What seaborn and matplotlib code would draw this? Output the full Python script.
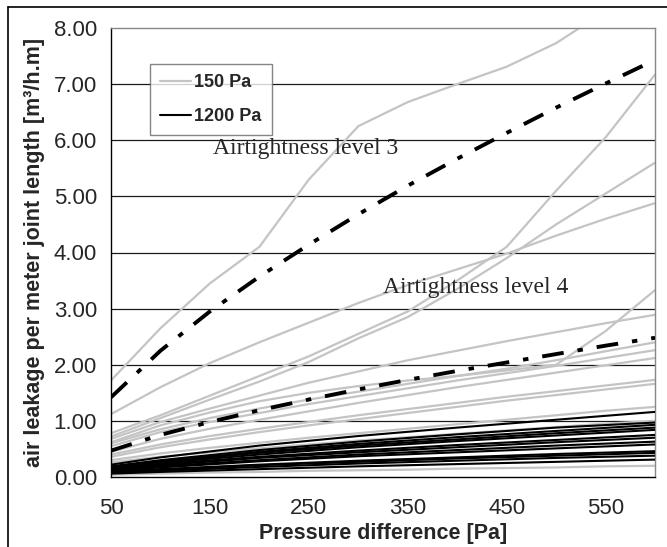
import numpy as np
import pandas as pd
import seaborn as sns
import matplotlib
matplotlib.use("Agg")
import matplotlib.pyplot as plt
from matplotlib.lines import Line2D

# ---------------- data ----------------
pressure = [50, 100, 150, 200, 250, 300, 350, 400, 450, 500, 550, 600]
pressure_black = [50, 100, 200, 300, 400, 500, 600]

gray_series = {
    "G1": [1.72, 2.65, 3.45, 4.10, 5.30, 6.25, 6.68, 7.00, 7.31, 7.73, 8.30, 8.80],
    "G2": [0.78, 1.10, 1.45, 1.80, 2.15, 2.55, 2.95, 3.50, 4.10, 5.10, 6.05, 7.17],
    "G3": [0.72, 1.05, 1.38, 1.70, 2.05, 2.47, 2.85, 3.35, 3.90, 4.50, 5.05, 5.60],
    "G4": [1.12, 1.60, 2.03, 2.40, 2.75, 3.10, 3.42, 3.70, 3.98, 4.30, 4.60, 4.88],
    "G5": [0.62, 0.92, 1.15, 1.35, 1.50, 1.62, 1.72, 1.80, 1.90, 2.00, 2.60, 3.33],
    "G6": [0.68, 0.98, 1.22, 1.45, 1.68, 1.88, 2.08, 2.25, 2.42, 2.58, 2.74, 2.89],
    "G7": [0.60, 0.85, 1.05, 1.22, 1.38, 1.52, 1.66, 1.80, 1.93, 2.08, 2.24, 2.40],
    "G8": [0.55, 0.80, 0.98, 1.14, 1.30, 1.44, 1.58, 1.72, 1.85, 1.98, 2.12, 2.26],
    "G9": [0.45, 0.68, 0.86, 1.02, 1.17, 1.32, 1.46, 1.60, 1.73, 1.86, 1.99, 2.12],
    "G10": [0.40, 0.58, 0.73, 0.86, 0.98, 1.10, 1.21, 1.32, 1.43, 1.53, 1.63, 1.73],
    "G11": [0.36, 0.53, 0.67, 0.80, 0.92, 1.03, 1.14, 1.25, 1.36, 1.46, 1.56, 1.66],
    "G12": [0.30, 0.42, 0.52, 0.61, 0.70, 0.78, 0.86, 0.94, 1.02, 1.10, 1.18, 1.25],
    "G13": [0.26, 0.36, 0.44, 0.51, 0.58, 0.65, 0.71, 0.77, 0.83, 0.89, 0.95, 1.00],
    "G14": [0.04, 0.06, 0.08, 0.09, 0.11, 0.12, 0.13, 0.15, 0.16, 0.17, 0.19, 0.20],
}

black_series = {
    "B1": [0.22, 0.35, 0.56, 0.73, 0.88, 1.02, 1.16],
    "B2": [0.19, 0.30, 0.48, 0.63, 0.76, 0.88, 0.97],
    "B3": [0.18, 0.28, 0.45, 0.59, 0.71, 0.82, 0.93],
    "B4": [0.17, 0.27, 0.43, 0.56, 0.67, 0.78, 0.88],
    "B5": [0.16, 0.25, 0.40, 0.53, 0.64, 0.74, 0.84],
    "B6": [0.14, 0.23, 0.36, 0.47, 0.57, 0.66, 0.75],
    "B7": [0.13, 0.21, 0.34, 0.44, 0.53, 0.62, 0.70],
    "B8": [0.12, 0.19, 0.30, 0.40, 0.48, 0.56, 0.63],
    "B9": [0.11, 0.17, 0.28, 0.37, 0.44, 0.51, 0.58],
    "B10": [0.09, 0.14, 0.22, 0.29, 0.35, 0.41, 0.46],
    "B11": [0.08, 0.13, 0.21, 0.27, 0.33, 0.38, 0.43],
    "B12": [0.07, 0.11, 0.18, 0.24, 0.29, 0.34, 0.38],
    "B13": [0.06, 0.09, 0.14, 0.19, 0.23, 0.27, 0.31],
}

level3 = [1.42, 2.25, 2.95, 3.57, 4.14, 4.68, 5.19, 5.67, 6.13, 6.58, 7.01, 7.43]
level4 = [0.47, 0.75, 0.98, 1.19, 1.38, 1.56, 1.73, 1.89, 2.04, 2.19, 2.34, 2.48]

legend_labels = ["150 Pa", "1200 Pa"]
annotations = ["Airtightness level 3", "Airtightness level 4"]
x_ticks = [50, 150, 250, 350, 450, 550]
y_ticks = [0, 1, 2, 3, 4, 5, 6, 7, 8]

# ---------------- build frames ----------------
rows = []
for name, vals in gray_series.items():
    for p, q in zip(pressure, vals):
        rows.append({"P": p, "Q": q, "series": name, "group": "150 Pa"})
for name, vals in black_series.items():
    for p, q in zip(pressure_black, vals):
        rows.append({"P": p, "Q": q, "series": name, "group": "1200 Pa"})
df = pd.DataFrame(rows)

lev_rows = []
for name, vals in (("L3", level3), ("L4", level4)):
    for p, q in zip(pressure, vals):
        lev_rows.append({"P": p, "Q": q, "series": name})
lev = pd.DataFrame(lev_rows)

# ---------------- plot ----------------
sns.set_theme(style="white")
plt.rcParams["font.family"] = ["Liberation Sans", "DejaVu Sans"]

fig = plt.figure(figsize=(6.67, 5.47), dpi=100)
ax = fig.add_axes([111 / 667, 1 - 477 / 547, (655 - 111) / 667, (477 - 28) / 547])

GRAY = "#c4c4c4"
for yv in range(1, 8):
    ax.axhline(yv, color="#1a1a1a", lw=0.9, zorder=0)

sns.lineplot(data=df[df.group == "150 Pa"], x="P", y="Q", units="series",
             estimator=None, color=GRAY, lw=1.6, ax=ax, legend=False, zorder=2)
sns.lineplot(data=df[df.group == "1200 Pa"], x="P", y="Q", units="series",
             estimator=None, color="black", lw=1.5, ax=ax, legend=False, zorder=3)
n_before = len(ax.lines)
sns.lineplot(data=lev, x="P", y="Q", units="series", estimator=None,
             color="black", lw=2.8, ax=ax, legend=False, zorder=4)
for ln in ax.lines[n_before:]:
    ln.set_dashes([5.6, 3.6, 1.4, 3.6])
    ln.set_dash_capstyle("butt")

ax.set_xlim(50, 600)
ax.set_ylim(0, 8)
ax.set_xticks(x_ticks)
ax.set_yticks(y_ticks)
ax.set_yticklabels([f"{v:.2f}" for v in y_ticks])
ax.tick_params(axis="both", labelsize=16, direction="out", length=6,
               width=1, color="black")
ax.tick_params(axis="x", pad=9)
ax.tick_params(axis="y", pad=4)

for side in ("top", "right"):
    ax.spines[side].set_color("#888888")
    ax.spines[side].set_linewidth(1.0)
for side in ("left", "bottom"):
    ax.spines[side].set_color("black")
    ax.spines[side].set_linewidth(1.0)

ax.set_xlabel("Pressure difference [Pa]", fontsize=15.5, fontweight="bold", labelpad=3)
ax.set_ylabel("air leakage per meter joint length [m³/h.m]", fontsize=15.5,
              fontweight="bold", labelpad=6)

ax.text(153, 5.85, annotations[0], fontsize=17, family="Liberation Serif",
        va="center", ha="left", zorder=5)
ax.text(325, 3.38, annotations[1], fontsize=17, family="Liberation Serif",
        va="center", ha="left", zorder=5)

handles = [Line2D([0], [0], color=GRAY, lw=1.6),
           Line2D([0], [0], color="black", lw=1.5)]
leg = ax.legend(handles, legend_labels, loc="upper left",
                bbox_to_anchor=((150 - 111) / 544, (477 - 64) / 449),
                prop={"weight": "bold", "size": 13}, frameon=True,
                fancybox=False, handlelength=1.7, handletextpad=0.2,
                borderpad=0.55, labelspacing=0.95, borderaxespad=0)
leg.get_frame().set_edgecolor("#666666")
leg.get_frame().set_linewidth(1.0)
leg.get_frame().set_facecolor("white")
leg.set_zorder(6)

# outer figure border (top and left)
fig.add_artist(Line2D([8 / 667, 8 / 667], [0, 1 - 7 / 547], color="black",
                      lw=1.2, transform=fig.transFigure))
fig.add_artist(Line2D([8 / 667, 1], [1 - 7 / 547, 1 - 7 / 547], color="black",
                      lw=1.2, transform=fig.transFigure))

fig.savefig("out.png", dpi=100)
